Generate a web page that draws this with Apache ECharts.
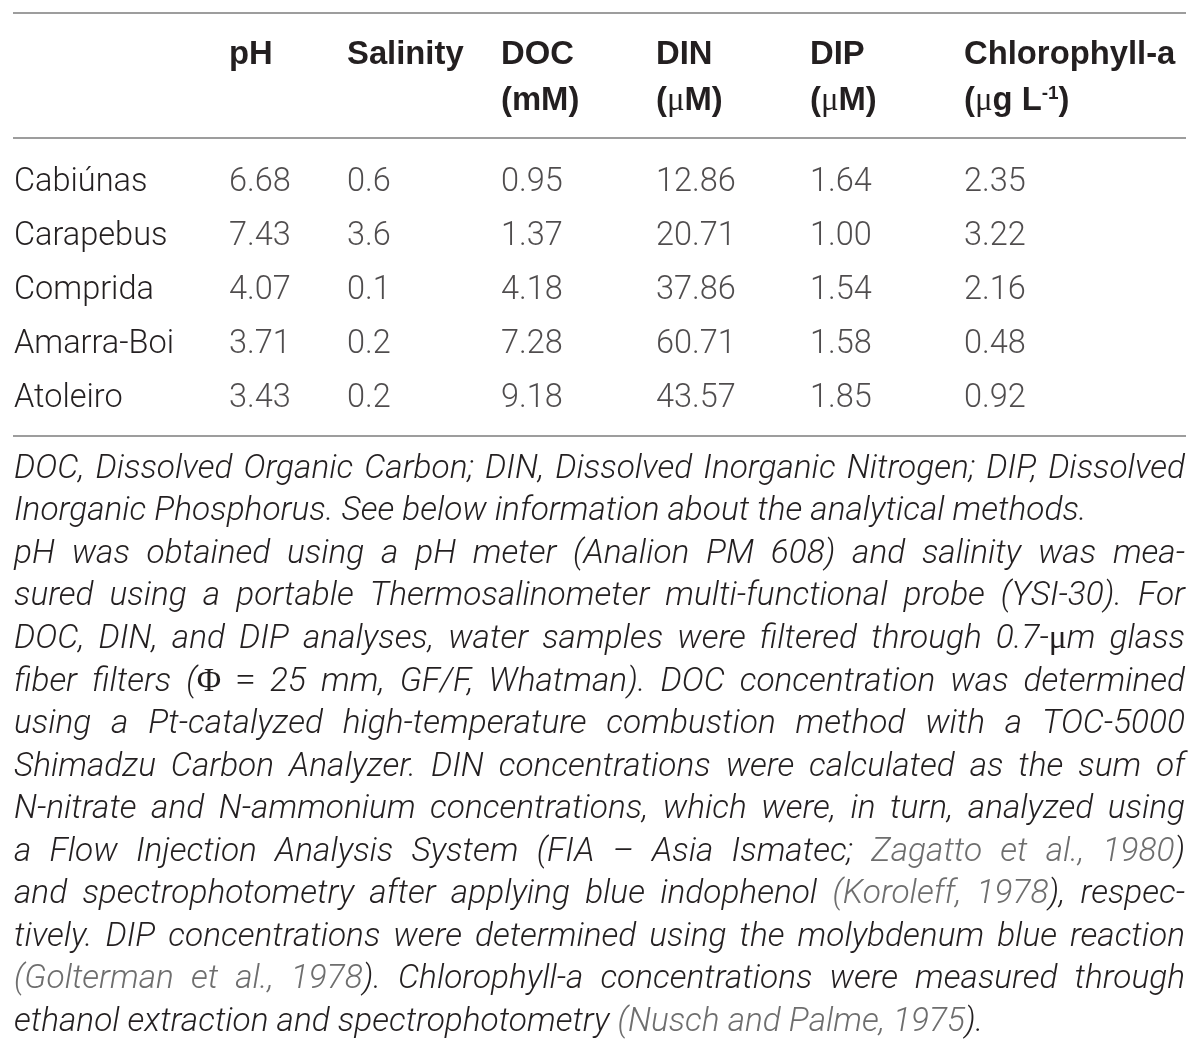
<!DOCTYPE html>
<html><head><meta charset="utf-8">
<script src="https://cdn.jsdelivr.net/npm/echarts@6/dist/echarts.min.js"></script>
<style>html,body{margin:0;padding:0;background:#fff}#c{width:1200px;height:1050px}</style>
</head><body><div id="c"></div>
<script>
// ---------------- data ----------------
const sites = ['Cabiúnas', 'Carapebus', 'Comprida', 'Amarra-Boi', 'Atoleiro'];
const pH = [6.68, 7.43, 4.07, 3.71, 3.43];
const salinity = [0.6, 3.6, 0.1, 0.2, 0.2];
const doc = [0.95, 1.37, 4.18, 7.28, 9.18];
const din = [12.86, 20.71, 37.86, 60.71, 43.57];
const dip = [1.64, 1.00, 1.54, 1.58, 1.85];
const chla = [2.35, 3.22, 2.16, 0.48, 0.92];
const columns = [pH, salinity, doc, din, dip, chla];
const colDecimals = [2, 1, 2, 2, 2, 2];
const headerTop = ['pH', 'Salinity', 'DOC', 'DIN', 'DIP', 'Chlorophyll-a'];
const headerUnit = ['', '', '(mM)', '({mu|μ}M)', '({mu|μ}M)', '({mu|μ}g L{sup|-1})'];
// footnote: {gray citation}, ‹upright serif symbol›
const footLines = [
  'DOC, Dissolved Organic Carbon; DIN, Dissolved Inorganic Nitrogen; DIP, Dissolved',
  'Inorganic Phosphorus. See below information about the analytical methods.',
  'pH was obtained using a pH meter (Analion PM 608) and salinity was mea-',
  'sured using a portable Thermosalinometer multi-functional probe (YSI-30). For',
  'DOC, DIN, and DIP analyses, water samples were filtered through 0.7-‹μ›m glass',
  'fiber filters (‹Φ› ‹=› 25 mm, GF/F, Whatman). DOC concentration was determined',
  'using a Pt-catalyzed high-temperature combustion method with a TOC-5000',
  'Shimadzu Carbon Analyzer. DIN concentrations were calculated as the sum of',
  'N-nitrate and N-ammonium concentrations, which were, in turn, analyzed using',
  'a Flow Injection Analysis System (FIA – Asia Ismatec; {Zagatto et al., 1980})',
  'and spectrophotometry after applying blue indophenol {(Koroleff, 1978}), respec-',
  'tively. DIP concentrations were determined using the molybdenum blue reaction',
  '{(Golterman et al., 1978}). Chlorophyll-a concentrations were measured through',
  'ethanol extraction and spectrophotometry {(Nusch and Palme, 1975}).'
];
const footJustify = [true, false, true, true, true, true, true, true, true, true, true, true, true, false];

// ---------------- layout / style ----------------
const colLeft = [229, 347, 501, 656, 810, 964];
const TEXT = '#231f20';
const GRAY = '#6e6e6e';
const RULE = '#9d9d9d';
const LEFT = 14, RIGHT = 1185;
const DATA_FS = 32.5, HEAD_FS = 32.8, FN_FS = 33.4;
const LIGHT = 'Roboto';
const BOLD = '"Liberation Sans"';

const chart = echarts.init(document.getElementById('c'), null, { renderer: 'canvas' });

// table cells through the grid's scales
const cellData = [];
sites.forEach((s, r) => {
  columns.forEach((col, c) => {
    cellData.push([colLeft[c], s, col[r], colDecimals[c]]);
  });
});

// ---------------- footnote layout (justified) ----------------
const cv = document.createElement('canvas').getContext('2d');
function fontOf(mode) {
  return mode === 's' ? `${FN_FS}px "Liberation Serif"` : `italic 300 ${FN_FS}px ${LIGHT}`;
}
function measure(t, mode) { cv.font = fontOf(mode); return cv.measureText(t).width; }
function parseLine(str) {
  const words = []; let cur = []; let mode = 'k'; let buf = ''; let base = 'k';
  const flush = () => { if (buf) { cur.push({ t: buf, m: mode }); buf = ''; } };
  for (const ch of str) {
    if (ch === '{') { flush(); mode = 'g'; base = 'g'; continue; }
    if (ch === '}') { flush(); mode = 'k'; base = 'k'; continue; }
    if (ch === '‹') { flush(); mode = 's'; continue; }
    if (ch === '›') { flush(); mode = base; continue; }
    if (ch === ' ') { flush(); if (cur.length) { words.push(cur); cur = []; } continue; }
    buf += ch;
  }
  flush(); if (cur.length) words.push(cur);
  return words;
}
const graphics = [];
const ruleY = [13, 138, 436];
ruleY.forEach(y => graphics.push({
  type: 'line', silent: true,
  shape: { x1: LEFT - 1, y1: y, x2: RIGHT + 1, y2: y },
  style: { stroke: RULE, lineWidth: 2 }
}));
// header
const headRich = {
  mu: { fontFamily: '"Liberation Serif"', fontWeight: 400, fontSize: HEAD_FS, fill: TEXT },
  sup: { fontFamily: BOLD, fontWeight: 700, fontSize: 19, fill: TEXT, verticalAlign: 'top', padding: [0, 0, 14, 0] }
};
headerTop.forEach((h, c) => {
  graphics.push({
    type: 'text', x: colLeft[c], y: 54.5, silent: true,
    style: { text: h, fill: TEXT, fontFamily: BOLD, fontWeight: 700, fontSize: HEAD_FS, verticalAlign: 'middle', align: 'left' }
  });
  if (headerUnit[c]) graphics.push({
    type: 'text', x: colLeft[c], y: 101, silent: true,
    style: { text: headerUnit[c], rich: headRich, fill: TEXT, fontFamily: BOLD, fontWeight: 700, fontSize: HEAD_FS, verticalAlign: 'middle', align: 'left' }
  });
});
// footnote
const FN_Y0 = 469.5, FN_DY = 42.55;
const spaceW = measure(' ', 'k');
footLines.forEach((line, i) => {
  const words = parseLine(line);
  const widths = words.map(w => w.reduce((a, r) => a + measure(r.t, r.m), 0));
  const total = widths.reduce((a, b) => a + b, 0);
  const gap = footJustify[i] && words.length > 1 ? (RIGHT - LEFT - total) / (words.length - 1) : spaceW;
  let x = LEFT;
  const y = FN_Y0 + i * FN_DY;
  words.forEach((w, wi) => {
    let rx = x;
    w.forEach(r => {
      graphics.push({
        type: 'text', x: rx, y: y, silent: true,
        style: r.m === 's'
          ? { text: r.t, fill: TEXT, fontFamily: '"Liberation Serif"', fontSize: FN_FS, verticalAlign: 'middle', align: 'left' }
          : { text: r.t, fill: r.m === 'g' ? GRAY : TEXT, fontFamily: LIGHT, fontStyle: 'italic', fontWeight: 300, fontSize: FN_FS, verticalAlign: 'middle', align: 'left' }
      });
      rx += measure(r.t, r.m);
    });
    x += widths[wi] + gap;
  });
});

chart.setOption({
  animation: false,
  backgroundColor: '#fff',
  grid: { left: LEFT, right: 0, top: 156, height: 270 },
  xAxis: { type: 'value', min: LEFT, max: 1200, show: false },
  yAxis: {
    type: 'category', data: sites, inverse: true,
    axisLine: { show: false }, axisTick: { show: false }, splitLine: { show: false },
    axisLabel: { inside: true, margin: 0, color: TEXT, fontFamily: LIGHT, fontWeight: 300, fontSize: DATA_FS }
  },
  series: [{
    type: 'scatter', data: cellData, symbolSize: 0, silent: true,
    label: {
      show: true, position: 'right', distance: 0,
      color: TEXT, fontFamily: LIGHT, fontWeight: 300, fontSize: DATA_FS,
      formatter: p => p.value[2].toFixed(p.value[3])
    }
  }],
  graphic: graphics
});
</script></body></html>
